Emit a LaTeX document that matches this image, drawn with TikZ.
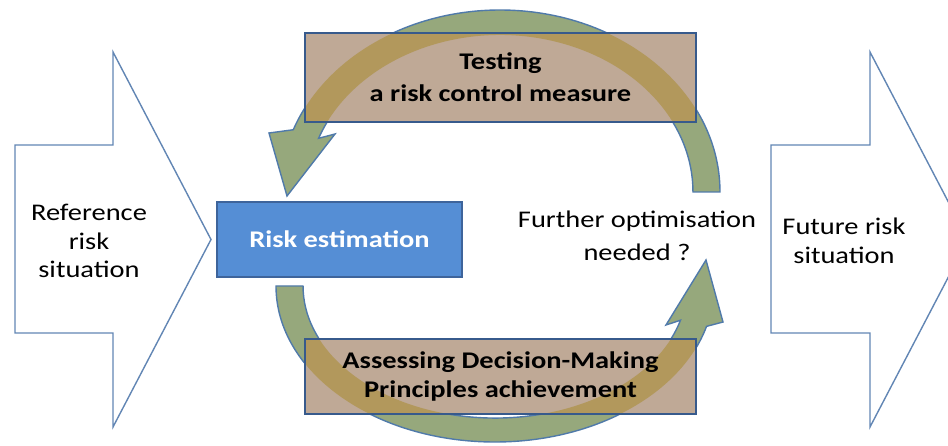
\documentclass[tikz,border=0pt]{standalone}
\usepackage{fontspec}
\setmainfont{Carlito}[FakeStretch=1.19]
\usetikzlibrary{backgrounds}

\definecolor{bigline}{RGB}{98,134,180}
\definecolor{loopgreen}{RGB}{150,168,124}
\definecolor{loopline}{RGB}{80,122,170}
\definecolor{panelfill}{RGB}{191,169,150}
\definecolor{paneloverlap}{RGB}{178,152,92}
\definecolor{panelline}{RGB}{55,90,140}
\definecolor{estimfill}{RGB}{85,142,213}
\definecolor{estimline}{RGB}{62,100,155}

% the two circular arrows (pixel-like units, y downwards)
\newcommand{\testloop}{(693,192) -- (720,192)
    arc[start angle=0, end angle=-160, x radius=220, y radius=182]
    -- (269,133) -- (287,196) -- (335,134) -- (318.6,138.3)
    arc[start angle=-160, end angle=0, x radius=193, y radius=157] -- cycle}
\newcommand{\assessloop}{(303,286) -- (276,286)
    arc[start angle=180, end angle=15, x radius=219, y radius=156]
    -- (723,322) -- (706,260) -- (666,325) -- (680.5,320.2)
    arc[start angle=15, end angle=180, x radius=192, y radius=132] -- cycle}

\begin{document}
\begin{tikzpicture}[
    x=0.02cm,
    y=-0.02cm,
    font=\fontsize{13.6}{16.2}\selectfont,
    bigarrow/.style={draw=bigline, fill=white, line width=0.8pt},
    loop/.style={draw=loopline, fill=loopgreen, line width=0.8pt},
    txt/.style={align=center, inner sep=0pt},
    panel/.style={rectangle, draw=panelline, line width=1.1pt, minimum width=7.82cm, align=center,
        font=\fontsize{13.6}{18}\selectfont\bfseries},
    estim/.style={rectangle, draw=estimline, fill=estimfill, line width=1pt, text=white,
        minimum width=4.9cm, minimum height=1.5cm, font=\fontsize{13.6}{16}\selectfont\bfseries}
]
\useasboundingbox (0,0) rectangle (948,446);

% Reference and future situation
\draw[bigarrow] (15,145) -- (113,145) -- (113,52) -- (211,239.5) -- (113,427) -- (113,333) -- (15,333) -- cycle;
\draw[bigarrow] (771,145) -- (870,145) -- (870,52) -- (968,239.5) -- (870,427) -- (870,333) -- (771,333) -- cycle;
\node[txt] (reference) at (89,241) {Reference\\risk\\situation};
\node[txt] (future) at (844,241) {Future risk\\situation};

% Loop
\node[estim] (estimation) at (339.5,239.5) {Risk estimation};
\node[panel, minimum height=1.78cm] (testing) at (500.5,77.5) {Testing\\a risk control measure};
\node[panel, minimum height=1.5cm, font=\fontsize{13.6}{16.8}\selectfont\bfseries] (assessing) at (500.5,376.5)
    {Assessing Decision-Making\\Principles achievement};
\node[txt, font=\fontsize{13.6}{18.7}\selectfont] (further) at (637,236) {Further optimisation\\needed ?};

\begin{pgfonlayer}{background}
\path[loop] \testloop;
\path[loop] \assessloop;
\fill[panelfill] (testing.south west) rectangle (testing.north east);
\fill[panelfill] (assessing.south west) rectangle (assessing.north east);
\begin{scope}
\clip (testing.south west) rectangle (testing.north east)
      (assessing.south west) rectangle (assessing.north east);
\fill[paneloverlap] \testloop;
\fill[paneloverlap] \assessloop;
\end{scope}
\end{pgfonlayer}

\end{tikzpicture}
\end{document}
